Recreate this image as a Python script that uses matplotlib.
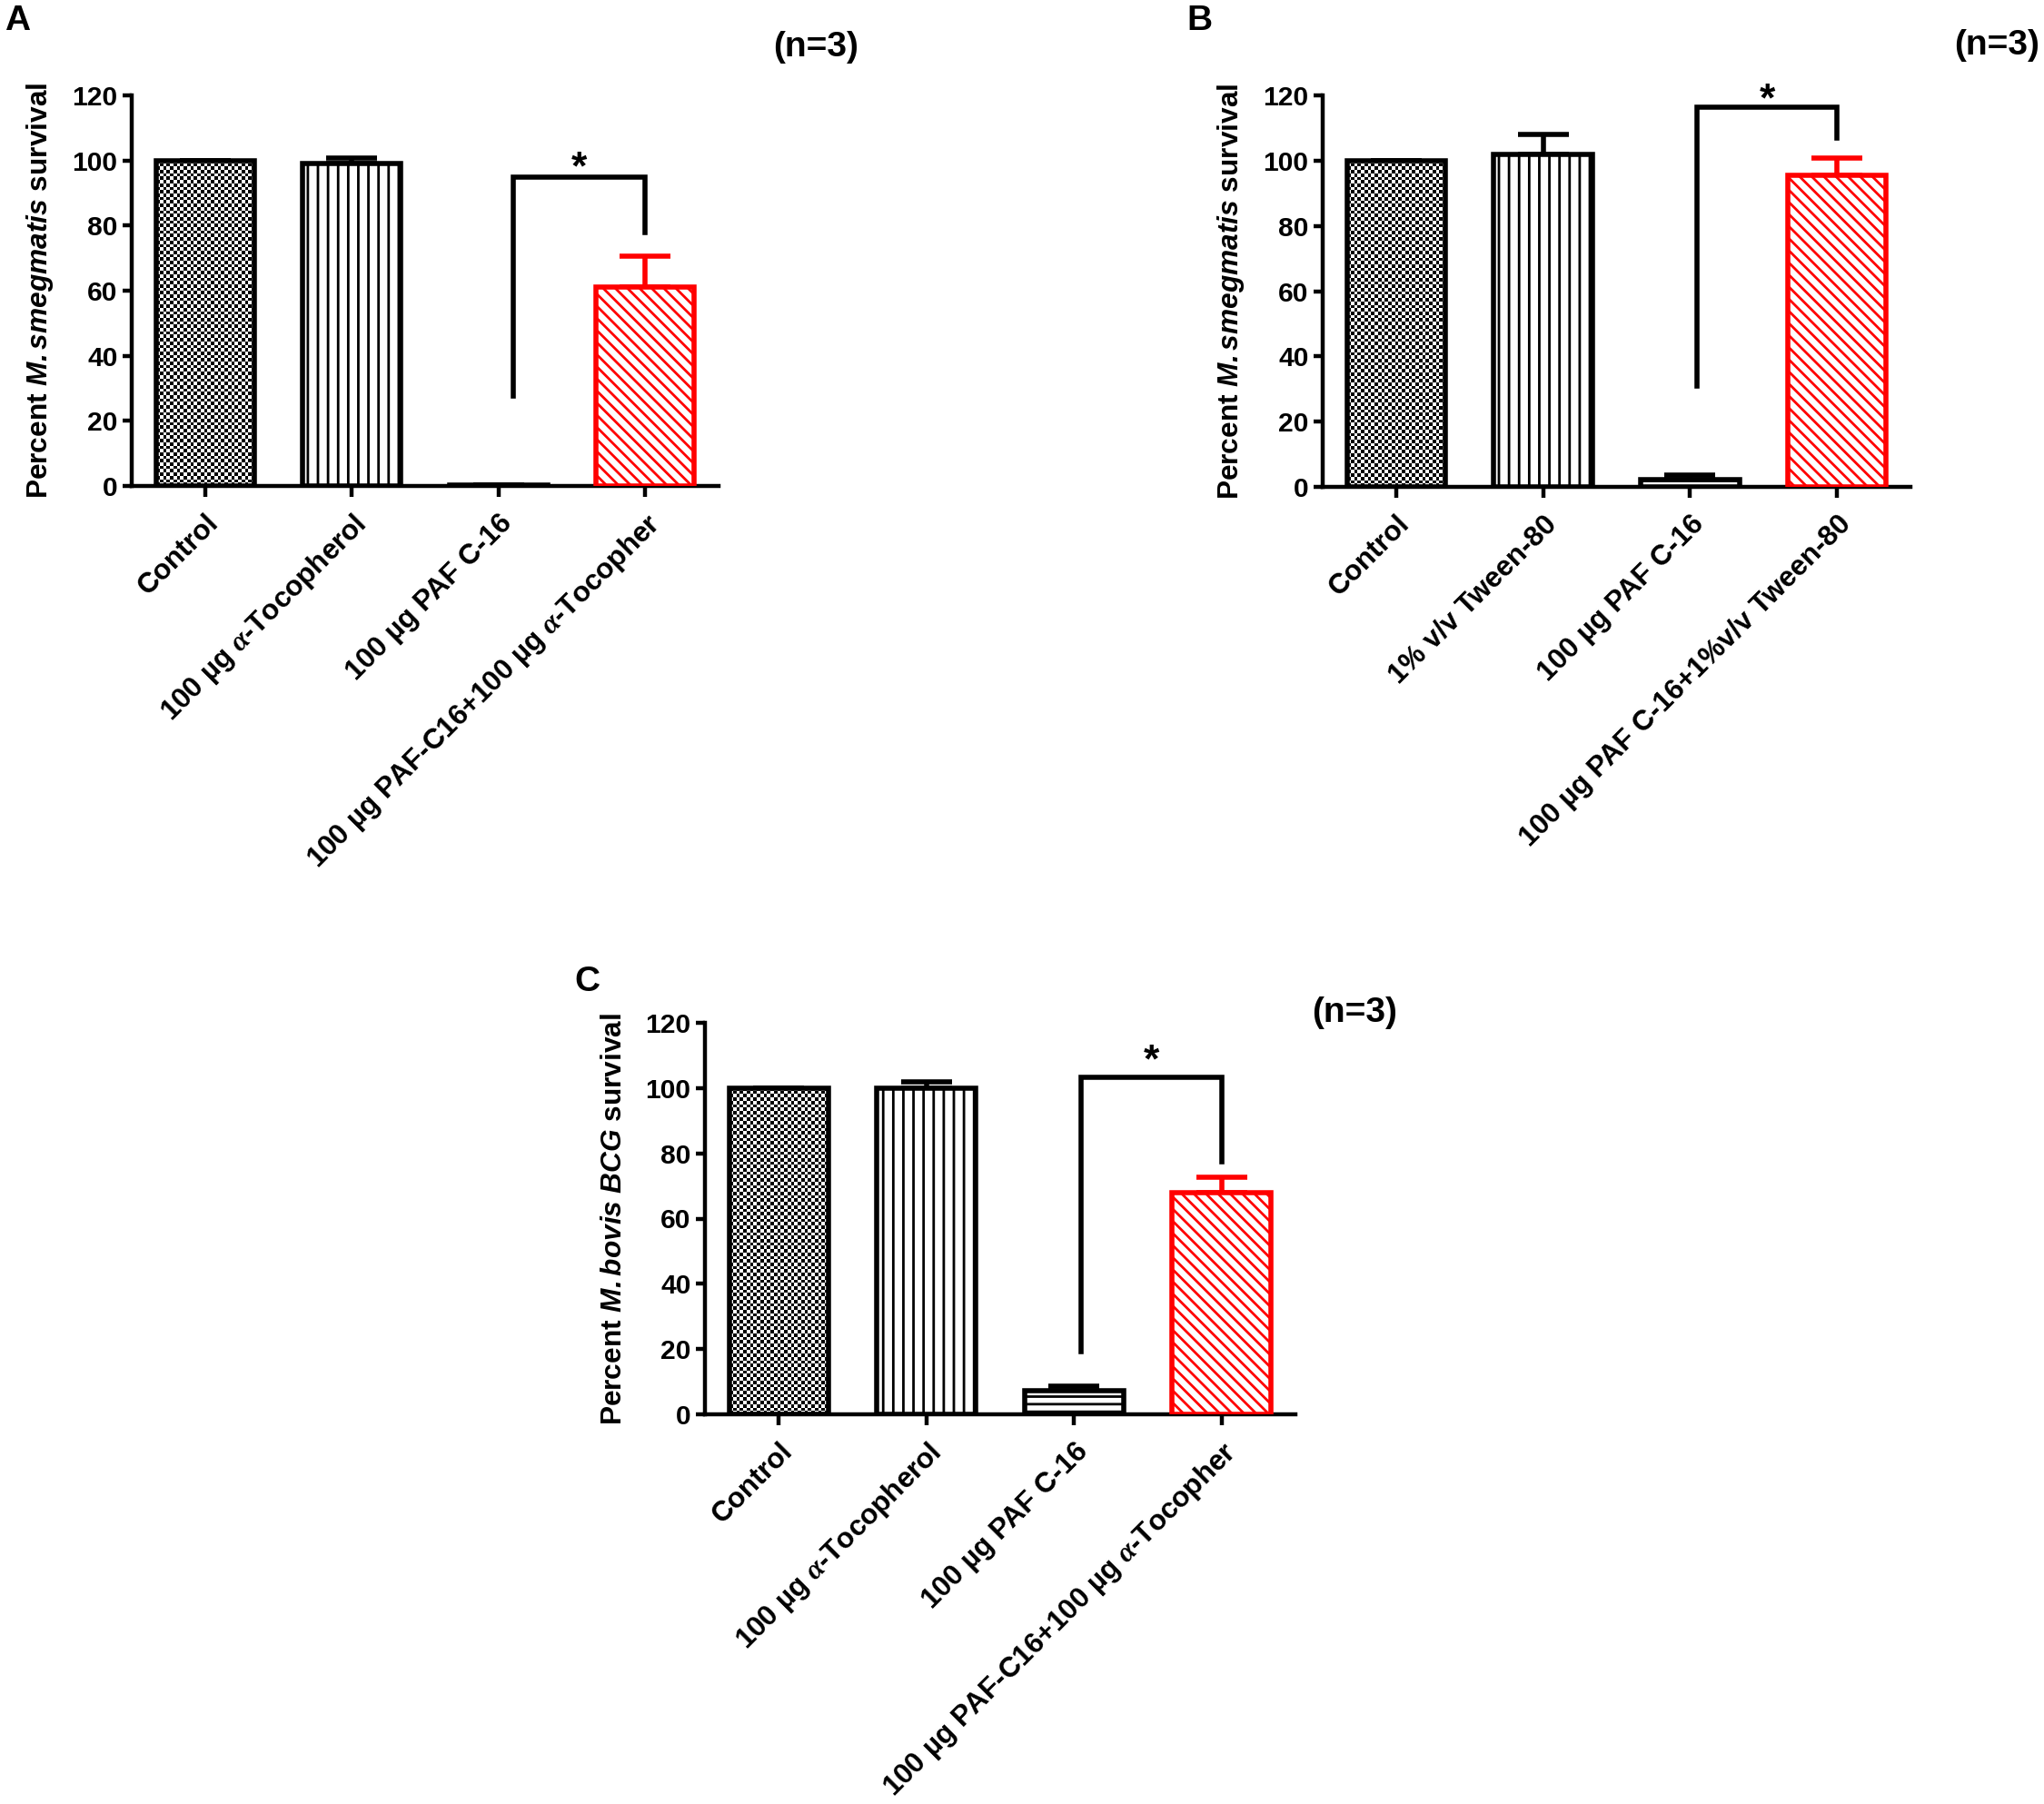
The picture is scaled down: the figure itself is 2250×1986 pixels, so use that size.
import numpy as np
import matplotlib
matplotlib.use("Agg")
import matplotlib.pyplot as plt

plt.rcParams['font.family'] = ['Liberation Sans', 'DejaVu Sans']
plt.rcParams['font.weight'] = 'bold'
plt.rcParams['mathtext.fontset'] = 'custom'
plt.rcParams['mathtext.rm'] = 'Liberation Sans:bold'
plt.rcParams['mathtext.bf'] = 'Liberation Sans:bold'
plt.rcParams['mathtext.it'] = 'Liberation Serif:italic'
plt.rcParams['mathtext.sf'] = 'Liberation Sans:italic:bold'
plt.rcParams['hatch.linewidth'] = 1.0

# ---- data ----
labels_a = ['Control', '100 µg $\\alpha$-Tocopherol', '100 µg PAF C-16',
            '100 µg PAF-C16+100 µg $\\alpha$-Tocopher']
mean_a = [100, 99.2, 0.3, 61]
err_a = [0, 1.5, 0, 9.6]
sig_a = dict(left=2.1, right=3.0, left_low=27.6, right_low=78, top=95, star=97.5)

labels_b = ['Control', '1% v/v Tween-80', '100 µg PAF C-16',
            '100 µg PAF C-16+1%v/v Tween-80']
mean_b = [100, 102, 2.2, 95.5]
err_b = [0, 6, 1.4, 5.3]
sig_b = dict(left=2.05, right=3.0, left_low=31, right_low=107, top=116.4, star=118.3)

labels_c = ['Control', '100 µg $\\alpha$-Tocopherol', '100 µg PAF C-16',
            '100 µg PAF-C16+100 µg $\\alpha$-Tocopher']
mean_c = [100, 100, 7.1, 68]
err_c = [0, 2, 1.5, 4.6]
sig_c = dict(left=2.05, right=3.0, left_low=19.2, right_low=77.4, top=103.3, star=108)

yticks = [0, 20, 40, 60, 80, 100, 120]

# ---- styles ----
fills = ['checker', '|||', '----', '\\\\\\\\\\']
edge_colors = ['black', 'black', 'black', '#ff0000']
LW = 2.0

W, H = 2250, 1986
fig = plt.figure(figsize=(W / 200, H / 200), dpi=200)


def checker_fill(ax, patch, cell_px=3.7):
    x0, y0 = patch.get_x(), patch.get_y()
    w, h = patch.get_width(), patch.get_height()
    p0 = ax.transData.transform((x0, y0))
    p1 = ax.transData.transform((x0 + w, y0 + h))
    ncols = max(1, int(round(abs(p1[0] - p0[0]) / cell_px)))
    nrows = max(1, int(round(abs(p1[1] - p0[1]) / cell_px)))
    board = np.indices((nrows, ncols)).sum(axis=0) % 2
    im = ax.imshow(board, cmap='gray', interpolation='nearest',
                   extent=(x0, x0 + w, y0, y0 + h), aspect='auto', zorder=2)
    im.set_clip_path(patch)


def panel(rect_px, labels, means, errs, sig, ylabel):
    left, top, right, bottom = rect_px
    ax = fig.add_axes([left / W, 1 - bottom / H, (right - left) / W, (bottom - top) / H])
    x = np.arange(len(means))
    ax.set_xlim(-0.5, len(means) - 0.5)
    ax.set_ylim(0, 120)
    for i in x:
        face = 'none' if fills[i] == 'checker' else 'white'
        hatch = None if fills[i] == 'checker' else fills[i]
        bars = ax.bar(x[i], means[i], width=0.67, facecolor=face, edgecolor=edge_colors[i],
                      linewidth=LW, hatch=hatch, zorder=3)
        if fills[i] == 'checker':
            checker_fill(ax, bars[0])
        ax.errorbar(x[i], means[i], yerr=[[0], [errs[i]]], fmt='none', ecolor=edge_colors[i],
                    elinewidth=LW, capsize=10, capthick=LW, zorder=1.5)
    ax.set_xlim(-0.5, len(means) - 0.5)
    ax.set_ylim(0, 120)

    # significance bracket
    ax.plot([sig['left'], sig['left'], sig['right'], sig['right']],
            [sig['left_low'], sig['top'], sig['top'], sig['right_low']],
            color='black', lw=LW, clip_on=False, solid_joinstyle='miter', zorder=4)
    ax.text((sig['left'] + sig['right']) / 2, sig['star'], '*', ha='center', va='center',
            fontsize=16, fontweight='bold')

    ax.set_yticks(yticks)
    ax.set_xticks(x)
    ax.set_xticklabels(labels, rotation=45, ha='right', va='top', rotation_mode='anchor',
                       fontsize=11.3, fontweight='bold')
    ax.tick_params(axis='x', length=4.3, width=1.6, pad=5)
    ax.tick_params(axis='y', length=3.6, width=1.6, pad=2, labelsize=10.8)
    for s in ['top', 'right']:
        ax.spines[s].set_visible(False)
    for s in ['left', 'bottom']:
        ax.spines[s].set_linewidth(1.6)
    ax.set_ylabel(ylabel, fontsize=11.4, fontweight='bold')
    ax.yaxis.set_label_coords(-0.13, 0.5)
    return ax


panel((145, 105, 791, 535), labels_a, mean_a, err_a, sig_a,
      'Percent $\\mathsf{M.smegmatis}$ survival')
panel((1456, 105, 2103, 536), labels_b, mean_b, err_b, sig_b,
      'Percent $\\mathsf{M.smegmatis}$ survival')
panel((776, 1126, 1426, 1557), labels_c, mean_c, err_c, sig_c,
      'Percent $\\mathsf{M.bovis\\ BCG}$ survival')

for letter, (lx, ly) in zip('ABC', [(5, 5), (1306, 5), (632, 1063)]):
    fig.text(lx / W, 1 - ly / H, letter, ha='left', va='top', fontsize=14, fontweight='bold')
for nx, ny in [(851, 34), (2151, 32), (1444, 1097)]:
    fig.text(nx / W, 1 - ny / H, '(n=3)', ha='left', va='top', fontsize=14, fontweight='bold')

fig.savefig('out.png', dpi=200)
